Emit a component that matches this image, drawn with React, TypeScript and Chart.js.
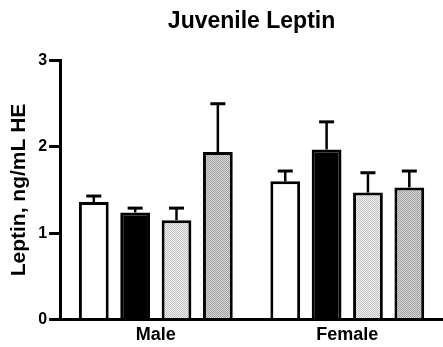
import React, { useEffect, useRef } from "react";
import { Chart, registerables } from "chart.js";

Chart.register(...registerables);

const categories = ["Male", "Female"];
const seriesNames = ["Group A", "Group B", "Group C", "Group D"];
const groupA = [1.36, 1.6];
const groupB = [1.24, 1.97];
const groupC = [1.15, 1.47];
const groupD = [1.94, 1.53];
const errA = [0.07, 0.12];
const errB = [0.05, 0.32];
const errC = [0.14, 0.23];
const errD = [0.56, 0.19];
const yTicks = [0, 1, 2, 3];

function makePattern(base: string, dot: string): CanvasPattern | string {
  const c = document.createElement("canvas");
  c.width = 2;
  c.height = 2;
  const ctx = c.getContext("2d");
  if (!ctx) return base;
  ctx.fillStyle = base;
  ctx.fillRect(0, 0, 2, 2);
  ctx.fillStyle = dot;
  ctx.fillRect(0, 0, 1, 1);
  ctx.fillRect(1, 1, 1, 1);
  const p = ctx.createPattern(c, "repeat");
  return p || base;
}

const errorBarPlugin = {
  id: "errorBars",
  afterDatasetsDraw(chart: any) {
    const ctx = chart.ctx;
    const yScale = chart.scales.y;
    chart.data.datasets.forEach((ds: any, i: number) => {
      const meta = chart.getDatasetMeta(i);
      meta.data.forEach((bar: any, j: number) => {
        const v = ds.data[j];
        const e = ds.errors[j];
        const y0 = yScale.getPixelForValue(v);
        const y1 = yScale.getPixelForValue(v + e);
        ctx.save();
        ctx.strokeStyle = "#000";
        ctx.lineWidth = 2.5;
        ctx.beginPath();
        ctx.moveTo(bar.x, y0);
        ctx.lineTo(bar.x, y1);
        ctx.stroke();
        ctx.lineWidth = 3;
        ctx.beginPath();
        ctx.moveTo(bar.x - 7.5, y1);
        ctx.lineTo(bar.x + 7.5, y1);
        ctx.stroke();
        ctx.restore();
      });
    });
  },
};

export default function App() {
  const ref = useRef<HTMLCanvasElement>(null);
  useEffect(() => {
    if (!ref.current) return;
    const light = makePattern("#eeeeee", "#c4c4c4");
    const dark = makePattern("#d4d4d4", "#a4a4a4");
    const fills: any[] = ["#ffffff", "#000000", light, dark];
    const values = [groupA, groupB, groupC, groupD];
    const errs = [errA, errB, errC, errD];
    const font = "'Liberation Sans', Arial, Helvetica, sans-serif";
    const chart = new Chart(ref.current, {
      type: "bar",
      data: {
        labels: categories,
        datasets: seriesNames.map((n, i) => ({
          label: n,
          data: values[i],
          errors: errs[i],
          backgroundColor: fills[i],
          borderColor: "#000",
          borderWidth: 3,
          borderSkipped: "bottom",
          categoryPercentage: 0.864,
          barPercentage: 0.72,
        })) as any,
      },
      options: {
        animation: false,
        responsive: false,
        layout: { padding: { left: 7, right: 0, top: 0, bottom: -4 } },
        plugins: {
          legend: { display: false },
          tooltip: { enabled: false },
          title: {
            display: true,
            text: "Juvenile Leptin",
            color: "#000",
            fullSize: false,
            font: { family: font, size: 23, weight: "bold" },
            padding: { top: 8, bottom: 25 },
          },
        },
        scales: {
          x: {
            grid: { display: false, drawTicks: false },
            border: { display: true, color: "#000", width: 3 },
            ticks: {
              color: "#000",
              font: { family: font, size: 18, weight: "bold" },
              padding: 5,
            },
          },
          y: {
            min: 0,
            max: 3,
            afterBuildTicks: (s: any) => {
              s.ticks = yTicks.map((v) => ({ value: v }));
            },
            grid: {
              drawOnChartArea: false,
              color: "#000",
              lineWidth: 3,
              tickLength: 11,
            },
            border: { display: true, color: "#000", width: 3 },
            ticks: {
              color: "#000",
              font: { family: font, size: 16, weight: "bold" },
              padding: 2,
            },
            title: {
              display: true,
              text: "Leptin, ng/mL HE",
              color: "#000",
              font: { family: font, size: 21, weight: "bold" },
              padding: { top: 0, bottom: 4 },
            },
          },
        },
      },
      plugins: [errorBarPlugin],
    });
    return () => chart.destroy();
  }, []);
  return (
    <div style={{ position: "fixed", left: 0, top: 0, width: 443, height: 347, background: "#fff" }}>
      <canvas ref={ref} width={443} height={347} style={{ width: 443, height: 347 }} />
    </div>
  );
}
